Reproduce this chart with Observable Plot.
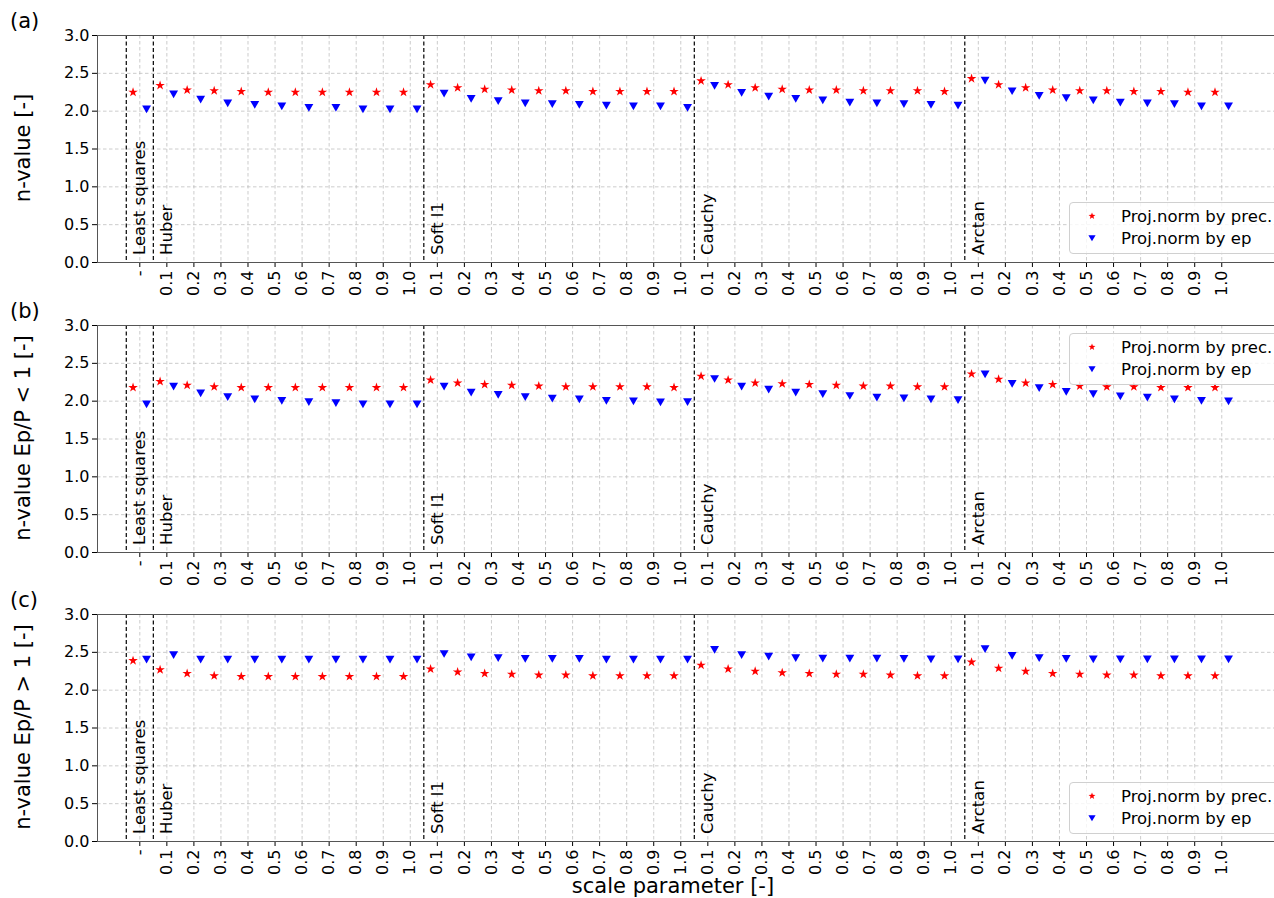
<!DOCTYPE html>
<html><head><meta charset="utf-8">
<script src="https://cdn.jsdelivr.net/npm/d3@7"></script>
<script src="https://cdn.jsdelivr.net/npm/@observablehq/plot@0.6"></script>
<style>
body{margin:0;background:#fff;font-family:"DejaVu Sans",sans-serif;}
#fig{position:relative;width:1274px;height:898px;overflow:hidden;background:#fff;}
.panel{position:absolute;left:0;}
.ylab{position:absolute;left:23px;transform:translate(-50%,-50%) rotate(-90deg);white-space:nowrap;font-size:21px;color:#000;}
.tag{position:absolute;left:10px;font-size:21px;color:#000;}
.xlab{position:absolute;left:673px;top:886px;transform:translate(-50%,-50%);white-space:nowrap;font-size:21px;}
.legend{position:absolute;left:1069px;width:220px;height:52px;background:rgba(255,255,255,0.8);border:1px solid #d0d0d0;border-radius:4px;z-index:5;font-size:16.5px;box-sizing:border-box;padding-top:2px;}
.legend .row{height:22px;display:flex;align-items:center;}
.legend svg{flex:0 0 auto;margin-left:18px;margin-right:0;}
.legend span{position:absolute;left:51px;}
</style></head><body><div id="fig"></div>
<script>
// category tick labels (index 0 = least squares, then 0.1..1.0 for each robust loss)
const scaleValues = ["0.1","0.2","0.3","0.4","0.5","0.6","0.7","0.8","0.9","1.0"];
const tickLabels = ["-"].concat(scaleValues, scaleValues, scaleValues, scaleValues);
const methods = ["Least squares","Huber","Soft l1","Cauchy","Arctan"];
const methodStart = [0, 1, 11, 21, 31];
const boundaries = [-0.5, 0.5, 10.5, 20.5, 30.5];
const yTicks = [0, 0.5, 1.0, 1.5, 2.0, 2.5, 3.0];

// (a) n-value
const precA = [2.25, 2.34,2.28,2.27,2.26,2.25,2.25,2.25,2.25,2.25,2.25, 2.35,2.31,2.29,2.28,2.27,2.27,2.26,2.26,2.26,2.26, 2.40,2.35,2.31,2.29,2.28,2.28,2.27,2.27,2.27,2.26, 2.43,2.35,2.31,2.28,2.27,2.27,2.26,2.26,2.25,2.25];
const epA = [2.04, 2.24,2.17,2.12,2.10,2.08,2.06,2.06,2.04,2.04,2.04, 2.25,2.18,2.15,2.12,2.11,2.10,2.09,2.08,2.08,2.06, 2.35,2.26,2.21,2.18,2.16,2.13,2.12,2.11,2.10,2.09, 2.42,2.28,2.22,2.19,2.16,2.13,2.12,2.11,2.08,2.08];
// (b) n-value Ep/P < 1
const precB = [2.18, 2.26,2.21,2.19,2.18,2.18,2.18,2.18,2.18,2.18,2.18, 2.28,2.24,2.22,2.21,2.20,2.19,2.19,2.19,2.19,2.18, 2.33,2.28,2.24,2.23,2.22,2.21,2.20,2.20,2.19,2.19, 2.36,2.29,2.24,2.22,2.20,2.19,2.19,2.18,2.18,2.18];
const epB = [1.975, 2.21,2.12,2.07,2.04,2.02,2.005,1.99,1.975,1.975,1.975, 2.21,2.13,2.10,2.07,2.05,2.04,2.02,2.015,2.0,2.005, 2.31,2.21,2.17,2.13,2.11,2.085,2.065,2.055,2.04,2.03, 2.37,2.245,2.19,2.14,2.11,2.08,2.065,2.04,2.02,2.015];
// (c) n-value Ep/P > 1
const precC = [2.39, 2.27,2.22,2.19,2.18,2.18,2.18,2.18,2.18,2.18,2.18, 2.28,2.24,2.22,2.21,2.20,2.20,2.19,2.19,2.19,2.19, 2.33,2.28,2.25,2.23,2.22,2.21,2.21,2.20,2.19,2.19, 2.37,2.29,2.25,2.22,2.21,2.20,2.20,2.19,2.19,2.19];
const epC = [2.42, 2.48,2.42,2.42,2.42,2.42,2.42,2.42,2.42,2.42,2.42, 2.495,2.45,2.44,2.43,2.43,2.43,2.42,2.42,2.42,2.42, 2.55,2.48,2.46,2.44,2.435,2.435,2.435,2.43,2.425,2.425, 2.56,2.47,2.44,2.43,2.425,2.425,2.425,2.425,2.425,2.425];

const panels = [
  {tag:"(a)", ylabel:"n-value [-]", prec:precA, ep:epA, top:0, legendTop:202},
  {tag:"(b)", ylabel:"n-value Ep/P < 1 [-]", prec:precB, ep:epB, top:290, legendTop:333},
  {tag:"(c)", ylabel:"n-value Ep/P > 1 [-]", prec:precC, ep:epC, top:579, legendTop:782}
];

const fig = document.getElementById("fig");
const idx = d3.range(tickLabels.length);

for (const p of panels) {
  const rows = idx.map(i => ({i, prec: p.prec[i], ep: p.ep[i]}));
  const chart = Plot.plot({
    width: 1274, height: 300,
    marginLeft: 97, marginRight: 0, marginTop: 35, marginBottom: 38,
    style: {fontFamily: "DejaVu Sans", fontSize: "16px", background: "transparent", overflow: "visible", color: "#000"},
    x: {domain: [-1.564, 41.95], axis: null},
    y: {domain: [0, 3], axis: null},
    marks: [
      Plot.gridX(idx, {stroke: "#b8b8b8", strokeOpacity: 0.9, strokeDasharray: "3.5,2.5", strokeWidth: 0.8}),
      Plot.gridY(yTicks, {stroke: "#b8b8b8", strokeOpacity: 0.9, strokeDasharray: "3.5,2.5", strokeWidth: 0.8}),
      Plot.ruleX(boundaries, {stroke: "black", strokeDasharray: "4,2.5", strokeWidth: 1.2}),
      Plot.text(methods, {x: (d, k) => methodStart[k], y: 0.1, text: d => d, rotate: -90, textAnchor: "start", fontSize: 16.5, fill: "#000"}),
      Plot.dot(rows, {x: d => d.i - 0.25, y: "prec", symbol: "star", fill: "red", stroke: "none", r: 3}),
      Plot.dot(rows, {x: d => d.i + 0.25, y: "ep", symbol: "triangle", fill: "blue", stroke: "none", r: 3.3, rotate: 180}),
      Plot.axisX({ticks: idx, tickFormat: i => tickLabels[i], tickRotate: -90, tickSize: 5, tickPadding: 3, fontSize: 16, label: null}),
      Plot.axisY({ticks: yTicks, tickFormat: d3.format(".1f"), tickSize: 5, tickPadding: 3, fontSize: 16, label: null}),
      Plot.frame({stroke: "#555", strokeWidth: 1})
    ]
  });
  chart.classList.add("panel");
  chart.style.top = p.top + "px";
  fig.appendChild(chart);

  const yl = document.createElement("div");
  yl.className = "ylab";
  yl.textContent = p.ylabel;
  yl.style.top = (p.top + 35 + 113) + "px";
  fig.appendChild(yl);

  const tg = document.createElement("div");
  tg.className = "tag";
  tg.textContent = p.tag;
  tg.style.top = (p.top + 9) + "px";
  fig.appendChild(tg);

  const lg = document.createElement("div");
  lg.className = "legend";
  lg.style.top = p.legendTop + "px";
  lg.innerHTML =
    '<div class="row"><svg width="8" height="8" viewBox="-5 -5 10 10"><path d="M0,-4.5L1.1,-1.5L4.3,-1.4L1.8,0.6L2.7,3.7L0,1.9L-2.7,3.7L-1.8,0.6L-4.3,-1.4L-1.1,-1.5Z" fill="red"/></svg><span>Proj.norm by prec.</span></div>' +
    '<div class="row"><svg width="8" height="8" viewBox="-5 -5 10 10"><path d="M-4.5,-3.5L4.5,-3.5L0,4Z" fill="blue"/></svg><span>Proj.norm by ep</span></div>';
  fig.appendChild(lg);
}

const xl = document.createElement("div");
xl.className = "xlab";
xl.textContent = "scale parameter [-]";
fig.appendChild(xl);
</script>
</body></html>
